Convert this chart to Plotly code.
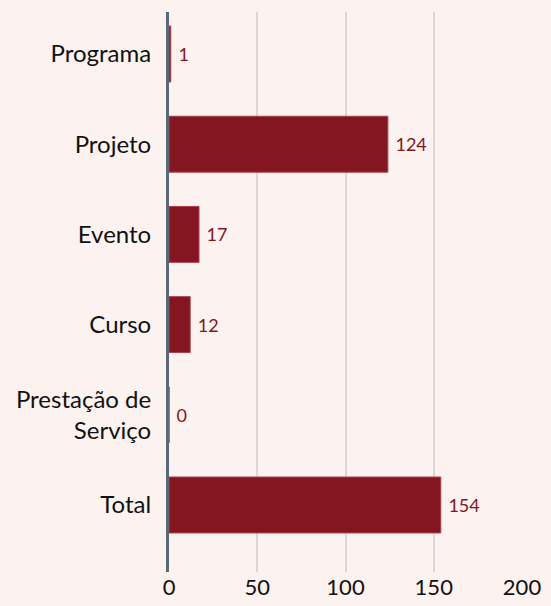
import plotly.graph_objects as go

categories = ["Programa", "Projeto", "Evento", "Curso", "Prestação de<br>Serviço", "Total"]
values = [1, 124, 17, 12, 0, 154]
x_ticks = [0, 50, 100, 150, 200]

BG = "#fcf3f1"
BAR = "#841622"
FONT = "Lato, 'Open Sans', sans-serif"

fig = go.Figure(go.Bar(
    y=list(range(len(categories))),
    x=values,
    orientation="h",
    width=0.62,
    marker=dict(color=BAR, line=dict(color="#a8404a", width=1)),
    texttemplate=" %{x}",
    textposition="outside",
    cliponaxis=False,
    textfont=dict(color=BAR, size=18, family=FONT),
))

fig.update_layout(
    width=551, height=606,
    paper_bgcolor=BG, plot_bgcolor=BG,
    margin=dict(l=169, r=29, t=12, b=34),
    showlegend=False,
    font=dict(family=FONT, color="#111111", size=24),
    xaxis=dict(
        range=[0, 200], tickvals=x_ticks, showgrid=True,
        gridcolor="#dcd5d5", gridwidth=2, zeroline=False,
        showline=False, ticks="", ticklen=0,
        tickfont=dict(size=22, color="#111111"), automargin=False,
    ),
    yaxis=dict(
        tickvals=list(range(len(categories))), ticktext=categories,
        range=[5.743, -0.466], showgrid=False, zeroline=False,
        showline=True, linecolor="#5b6876", linewidth=3,
        ticks="outside", ticklen=10, tickcolor="rgba(0,0,0,0)",
        tickfont=dict(size=24, color="#111111"), automargin=False,
    ),
)

fig.write_html(
    "out.html",
    config={"displayModeBar": False},
    post_script="document.body.style.margin='0';document.body.style.background='" + BG + "';",
)
